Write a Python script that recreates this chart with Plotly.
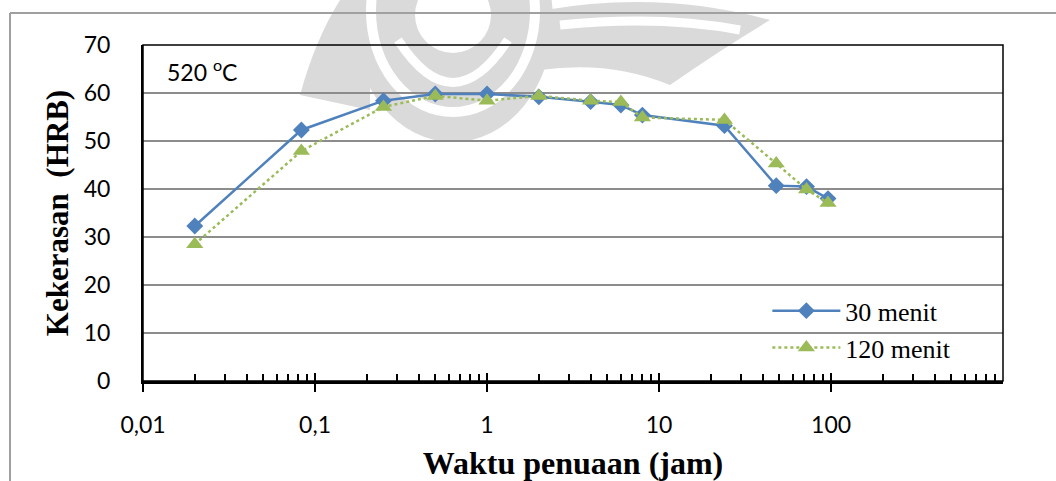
import plotly.graph_objects as go

# Data (time in hours, hardness HRB)
time_30 = [0.02, 0.0833, 0.25, 0.5, 1, 2, 4, 6, 8, 24, 48, 72, 96]
hrb_30 = [32.3, 52.3, 58.4, 59.8, 59.8, 59.2, 58.2, 57.5, 55.4, 53.2, 40.7, 40.5, 38.0]
time_120 = [0.02, 0.0833, 0.25, 0.5, 1, 2, 4, 6, 8, 24, 48, 72, 96]
hrb_120 = [28.5, 47.9, 57.1, 59.4, 58.4, 59.4, 58.4, 58.1, 54.9, 54.4, 45.3, 39.9, 37.1]

x_tickvals = [0.01, 0.1, 1, 10, 100]
x_ticktext = ["0,01", "0,1", "1", "10", "100"]
x_minor = [m * 10 ** e for e in range(-2, 3) for m in range(2, 10)]
y_tickvals = [0, 10, 20, 30, 40, 50, 60, 70]

BLUE = "#4F81BD"
GREEN = "#9BBB59"
TICKFONT = dict(family="Lato, Open Sans, sans-serif", size=23, color="black")
SERIF = "Liberation Serif, Times New Roman, serif"

# plot-area geometry in page pixels (for background decoration only)
L, R, T, B = 143, 1003, 45, 381


def px(x):
    return (x - L) / (R - L)


def py(y):
    return (B - y) / (B - T)


def pth(pts):
    out = []
    for cmd, *xy in pts:
        coords = " ".join(f"{px(xy[i]):.4f},{py(xy[i+1]):.4f}" for i in range(0, len(xy), 2))
        out.append(f"{cmd}{coords}")
    return " ".join(out) + " Z"


WM = "#DADADA"
watermark = [
    dict(type="circle", xref="paper", yref="paper", x0=px(353), x1=px(553), y0=py(142), y1=py(-102),
         fillcolor=WM, line=dict(width=0), layer="below"),
    dict(type="path", xref="paper", yref="paper", layer="below", fillcolor=WM, line=dict(width=0),
         path=pth([("M", 545, 10), ("Q", 660, -10, 770, 20), ("Q", 720, 50, 670, 85),
                   ("Q", 610, 60, 540, 70)])),
    dict(type="path", xref="paper", yref="paper", layer="below", fillcolor=WM, line=dict(width=0),
         path=pth([("M", 300, 95), ("Q", 315, 40, 340, 0), ("L", 370, 0), ("L", 370, 110)])),
    dict(type="circle", xref="paper", yref="paper", x0=px(371), x1=px(535), y0=py(112), y1=py(-90),
         line=dict(color="white", width=10), layer="below"),
    dict(type="path", xref="paper", yref="paper", layer="below", line=dict(color="white", width=9),
         path=f"M{px(398):.4f},{py(40):.4f} Q{px(453):.4f},{py(125):.4f} {px(508):.4f},{py(40):.4f}"),
    dict(type="circle", xref="paper", yref="paper", x0=px(415), x1=px(491), y0=py(53), y1=py(-23),
         fillcolor="white", line=dict(width=0), layer="below"),
    dict(type="path", xref="paper", yref="paper", layer="below", line=dict(color="white", width=9),
         path=f"M{px(560):.4f},{py(25):.4f} Q{px(660):.4f},{py(15):.4f} {px(740):.4f},{py(30):.4f}"),
]

fig = go.Figure()
fig.add_trace(go.Scatter(
    x=time_30, y=hrb_30, name="30 menit", mode="lines+markers",
    line=dict(color=BLUE, width=2.5),
    marker=dict(symbol="diamond", size=13, color=BLUE),
))
fig.add_trace(go.Scatter(
    x=time_120, y=hrb_120, name="120 menit", mode="lines+markers",
    line=dict(color=GREEN, width=2.5, dash="dot"),
    marker=dict(symbol="triangle-up", size=15, color=GREEN),
))
# invisible trace to host the overlay axis (inside half of major ticks)
fig.add_trace(go.Scatter(x=[0.01, 100], y=[0, 0], xaxis="x2", mode="lines",
                         line=dict(width=0), showlegend=False, hoverinfo="skip"))

fig.update_layout(
    width=1056, height=481,
    margin=dict(l=L, r=1056 - R, t=T, b=481 - B),
    paper_bgcolor="white", plot_bgcolor="rgba(0,0,0,0)",
    showlegend=True,
    legend=dict(x=0.726, y=0.279, xanchor="left", yanchor="top",
                font=dict(family=SERIF, size=26, color="black"),
                bgcolor="rgba(0,0,0,0)", itemwidth=68, tracegroupgap=0),
    xaxis=dict(
        type="log", range=[-2, 2.9995], automargin=False,
        tickmode="array", tickvals=x_tickvals, ticktext=x_ticktext,
        tickfont=TICKFONT, ticks="outside", ticklen=8, tickwidth=1.5, tickcolor="black",
        ticklabelstandoff=13,
        minor=dict(tickmode="array", tickvals=x_minor, ticks="inside", ticklen=7,
                   tickwidth=1.5, tickcolor="black", showgrid=False),
        showgrid=False, zeroline=False,
        showline=True, linecolor="black", linewidth=3,
        title=dict(text="<b>Waktu penuaan (jam)</b>",
                   font=dict(family=SERIF, size=32, color="black"), standoff=23),
    ),
    xaxis2=dict(
        type="log", range=[-2, 2.9995], overlaying="x", anchor="y", side="bottom",
        tickmode="array", tickvals=x_tickvals, ticks="inside", ticklen=8, tickwidth=1.5,
        tickcolor="black", showticklabels=False, showgrid=False, zeroline=False,
        showline=False, automargin=False,
    ),
    yaxis=dict(
        range=[0, 70], tickmode="array", tickvals=y_tickvals, automargin=False,
        tickfont=TICKFONT, ticks="", ticklabelstandoff=26,
        showgrid=True, gridcolor="#8C8C8C", gridwidth=1.5,
        zeroline=False, showline=True, linecolor="black", linewidth=2,
        title=dict(text="<b>Kekerasan  (HRB)</b>",
                   font=dict(family=SERIF, size=31, color="black"), standoff=6),
    ),
    shapes=watermark + [
        dict(type="rect", xref="paper", yref="paper", x0=0, x1=1, y0=0, y1=1,
             line=dict(color="black", width=1.5), layer="above"),
        # page frame lines (grey)
        dict(type="line", xref="paper", yref="paper", x0=px(10), x1=px(1060), y0=py(13), y1=py(13),
             line=dict(color="#A0A0A0", width=2)),
        dict(type="line", xref="paper", yref="paper", x0=px(10), x1=px(10), y0=py(13), y1=py(485),
             line=dict(color="#A0A0A0", width=2)),
    ],
    annotations=[
        dict(text="520 <sup>o</sup>C", xref="paper", yref="paper", x=0.025, y=0.975,
             xanchor="left", yanchor="top", showarrow=False,
             font=dict(family="Lato, Open Sans, sans-serif", size=23, color="black")),
    ],
)

fig.write_html("out.html")
